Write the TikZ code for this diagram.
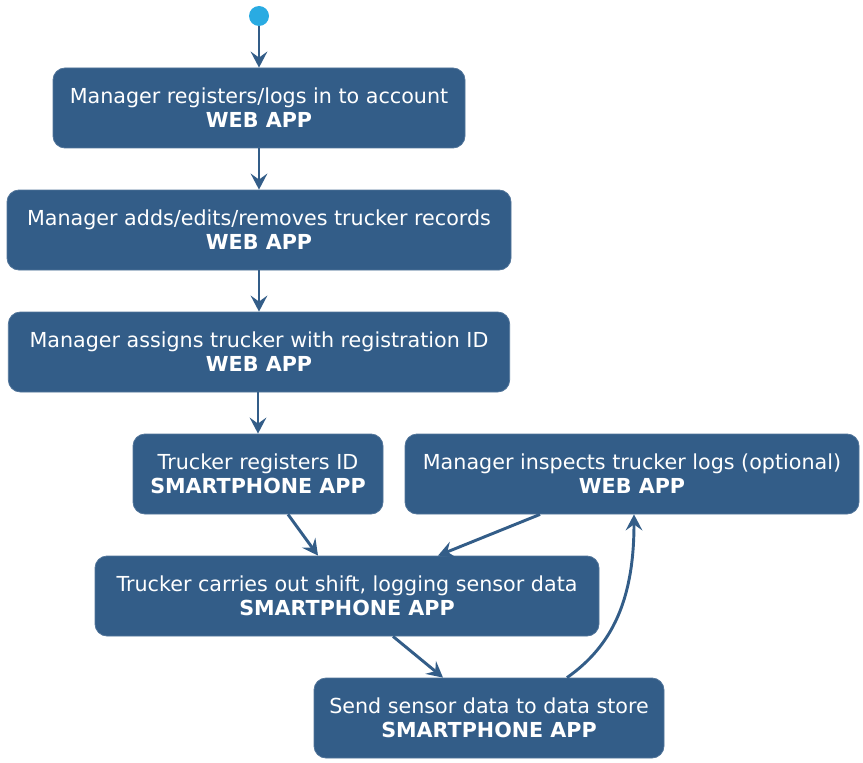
\documentclass[tikz,border=0pt]{standalone}
\usepackage{fontspec}
\setmainfont{DejaVu Sans}
\usetikzlibrary{arrows.meta, positioning}
\usepackage{xcolor}
\definecolor{boxblue}{HTML}{335D88}
\definecolor{startblue}{HTML}{29ABE2}

\begin{document}
\begin{tikzpicture}[x=0.75pt,y=-0.75pt,>={Stealth[length=12pt,width=12.5pt,inset=4.5pt]}, draw=boxblue]
    \tikzstyle{activity}=[rectangle,rounded corners=9pt,fill=boxblue,draw=boxblue!85!white,line width=0.6pt,text=white,align=center,minimum height=60pt,inner sep=0pt,font=\fontsize{15.5pt}{18pt}\selectfont]
    \tikzstyle{flow}=[->,line width=2.2pt,boxblue]
    \useasboundingbox (0,0) rectangle (863,763);

    % Draw the start point
    \node[circle,fill=startblue,minimum size=15pt,inner sep=0pt] (start) at (259,16) {};

    % Draw the web app steps
    \node[activity,minimum width=309pt] (register) at (259,108) {Manager registers/logs in to account\\\textbf{WEB APP}};
    \node[activity,minimum width=378pt] (records) at (259,230) {Manager adds/edits/removes trucker records\\\textbf{WEB APP}};
    \node[activity,minimum width=376pt] (assign) at (259,352) {Manager assigns trucker with registration ID\\\textbf{WEB APP}};

    % Draw the two parallel steps
    \node[activity,minimum width=187.5pt] (truckerid) at (258,474) {Trucker registers ID\\\textbf{SMARTPHONE APP}};
    \node[activity,minimum width=340.5pt] (inspect) at (632,474) {Manager inspects trucker logs (optional)\\\textbf{WEB APP}};

    % Draw the shift and upload steps
    \node[activity,minimum width=378pt] (shift) at (347,596) {Trucker carries out shift, logging sensor data\\\textbf{SMARTPHONE APP}};
    \node[activity,minimum width=262.5pt] (send) at (489,718) {Send sensor data to data store\\\textbf{SMARTPHONE APP}};

    % Connect the steps
    \draw[flow] (start) -- (register);
    \draw[flow] (register) -- (records);
    \draw[flow] (records) -- (assign);
    \draw[flow] (assign.south -| truckerid) -- (truckerid);
    \draw[flow] (truckerid.south -| 288,0) -- (shift.north -| 318,0);
    \draw[flow] (inspect.south -| 540,0) -- (shift.north -| 438,0);
    \draw[flow] (shift.south -| 393,0) -- (send.north -| 443,0);
    \draw[flow] (send.north -| 567,0) .. controls (612,646) and (634,600) .. (inspect.south -| 634,0);
\end{tikzpicture}
\end{document}
